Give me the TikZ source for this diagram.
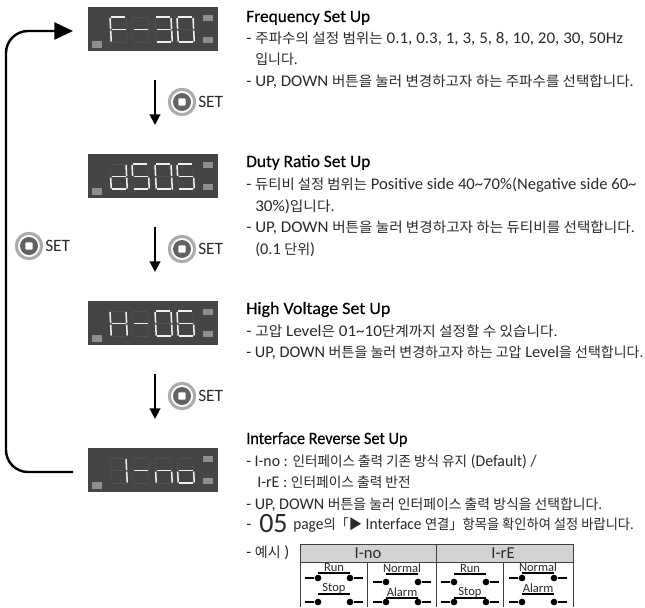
\documentclass[tikz,border=0pt]{standalone}
\usepackage{fontspec}
\usepackage{graphicx}
\usetikzlibrary{arrows.meta}
\setmainfont{Carlito}
\newfontfamily\krf{Noto Sans CJK KR}
\newfontfamily\headf[FakeBold=0.3]{Carlito}
\newcommand{\K}[1]{{\krf\fontsize{10.5}{11}\selectfont #1}}
\newcommand{\hs}[2]{\scalebox{#1}[1]{#2}}
\newcommand{\txtsize}{\fontsize{12.2}{13}\selectfont}
\definecolor{panel}{HTML}{454545}
\definecolor{ledgrey}{HTML}{8E8E8E}
\definecolor{ringgrey}{HTML}{ABABAB}
\definecolor{btn}{HTML}{636363}
\definecolor{inkk}{HTML}{2A2A2A}
\definecolor{headg}{HTML}{D2D2D2}
\def\sga{(1.3,0)--(15.3,0)}
\def\sgb{(16,1)--(16,12)}
\def\sgc{(16,13.5)--(16,24.5)}
\def\sgd{(1,25)--(15,25)}
\def\sge{(0,13.5)--(0,24.5)}
\def\sgf{(0,1)--(0,12)}
\def\sgg{(1,12.7)--(15,12.7)}
\def\drawsegx#1#2{\draw[#2] #1;}
\newcommand{\oneseg}[2]{\expandafter\drawsegx\csname sg#2\endcsname{#1}}
\newcommand{\dgt}[3]{\begin{scope}[shift={(#1,#2)},xslant=-0.05]
\foreach \s in {a,b,c,d,e,f,g}{\oneseg{segdim}{\s}}
\foreach \s in {#3}{\oneseg{segon}{\s}}
\end{scope}}
\newcommand{\panelled}[6]{%
\node[panelbox] (#1) at (153,#2+22) {};
\fill[ledgrey] (92,#2+34) rectangle (102,#2+41);
\fill[ledgrey] (203,#2+8) rectangle (213,#2+14);
\fill[ledgrey] (203,#2+30) rectangle (213,#2+36);
\dgt{110}{#2+10}{#3}\dgt{132}{#2+10}{#4}\dgt{155}{#2+10}{#5}\dgt{177}{#2+10}{#6}}
\newcommand{\setbtn}[3]{%
\node[ringb] (#1) at (#2,#3) {};
\node[coreb] (#1c) at (#2,#3) {};
\node[squareb] (#1s) at (#2,#3) {};
\node[settxt] (#1t) at (#2+16,#3) {SET};}
\newcommand{\sw}[5]{%
\coordinate (#1l) at (#2-29,#3);\coordinate (#1r) at (#2+29,#3);
\node[swdot] (#1a) at (#2-16,#3) {};\node[swdot] (#1b) at (#2+16,#3) {};
\draw[swline] (#1l) -- (#1a);\draw[swline] (#1b) -- (#1r);
\coordinate (#1p) at (#2-16,#4);\coordinate (#1q) at (#2+16,#4);
\draw[swline] (#1p) -- (#1q);
\node[swlabel] (#1t) at (#2,#4-5.5) {#5};}
\begin{document}
\begin{tikzpicture}[x=0.75pt,y=-0.75pt,
 panelbox/.style={fill=panel,draw=none,minimum width=97.5pt,minimum height=33pt,inner sep=0pt,outer sep=0pt},
 segdim/.style={draw=white!7!panel,line width=0.5pt},
 segon/.style={draw=white!94!black,line width=1.15pt},
 ringb/.style={circle,draw=ringgrey,line width=2.3pt,fill=white,minimum size=19pt,inner sep=0pt},
 coreb/.style={circle,fill=btn,minimum size=13.5pt,inner sep=0pt},
 squareb/.style={rectangle,fill=white,rounded corners=0.8pt,minimum size=5.6pt,inner sep=0pt},
 settxt/.style={anchor=west,font=\fontsize{13}{14}\selectfont,text=inkk,inner sep=0pt},
 flowar/.style={line width=1.5pt,-{Triangle[length=8pt,width=8pt]}},
 loopar/.style={line width=1.8pt,rounded corners=16.5pt,-{Triangle[length=14pt,width=12.8pt]}},
 head/.style={anchor=base west,font=\fontsize{13}{14}\headf\selectfont,text=black,inner sep=0pt},
 body/.style={anchor=base west,font=\txtsize,text=inkk,inner sep=0pt},
 tabline/.style={draw=black!75,line width=0.6pt},
 headcell/.style={font=\fontsize{12.5}{13}\selectfont,text=inkk,inner sep=0pt},
 swdot/.style={circle,fill=black,minimum size=5pt,inner sep=0pt},
 swline/.style={line width=1.2pt,black},
 swlabel/.style={font=\fontsize{9.4}{10}\selectfont,text=inkk,inner sep=0pt}]
\useasboundingbox (0,0) rectangle (645,607);
\fill[white] (0,0) rectangle (645,607);
\panelled{pa}{7}{a,e,f,g}{g}{a,b,c,d,g}{a,b,c,d,e,f}
\panelled{pb}{154}{b,c,d,e,g}{a,c,d,f,g}{a,b,c,d,e,f}{a,c,d,f,g}
\fill[white] (172.5,154+35) circle (0.9);
\panelled{pc}{301}{b,c,e,f,g}{g}{a,b,c,d,e,f}{a,c,d,e,f,g}
\panelled{pd}{448}{b,c}{g}{c,e,g}{c,d,e,g}
\coordinate (a1s) at (155,80);\coordinate (a1e) at (155,125);
\coordinate (a2s) at (155,227);\coordinate (a2e) at (155,272);
\coordinate (a3s) at (155,374);\coordinate (a3e) at (155,419);
\draw[flowar] (a1s) -- (a1e);
\draw[flowar] (a2s) -- (a2e);
\draw[flowar] (a3s) -- (a3e);
\coordinate (ls) at (73,472);\coordinate (lc1) at (6,472);\coordinate (lc2) at (6,31);\coordinate (le) at (73,31);
\draw[loopar] (ls) -- (lc1) -- (lc2) -- (le);
\setbtn{b1}{182}{102}
\setbtn{b2}{182}{249}
\setbtn{b3}{182}{396}
\setbtn{b4}{29}{246}
\node[head] (t1) at (246,22) {Frequency Set Up};
\node[body] (t2) at (246,43) {\hs{1.044}{- \K{주파수의 설정 범위는} 0.1, 0.3, 1, 3, 5, 8, 10, 20, 30, 50Hz}};
\node[body] (t3) at (255,64) {\K{입니다.}};
\node[body] (t4) at (246,86) {\hs{1.04}{- UP, DOWN \K{버튼을 눌러 변경하고자 하는 주파수를 선택합니다.}}};
\node[head] (t5) at (246,167) {Duty Ratio Set Up};
\node[body] (t6) at (246,189) {\hs{1.024}{- \K{듀티비 설정 범위는} Positive side 40\textasciitilde70\%(Negative side 60\textasciitilde}};
\node[body] (t7) at (255,211) {\hs{1.05}{30\%)\K{입니다.}}};
\node[body] (t8) at (246,232) {\hs{1.043}{- UP, DOWN \K{버튼을 눌러 변경하고자 하는 듀티비를 선택합니다.}}};
\node[body] (t9) at (255,254) {(0.1 \K{단위})};
\node[head] (t10) at (246,314) {\hs{1.036}{High Voltage Set Up}};
\node[body] (t11) at (246,336) {\hs{1.047}{- \K{고압} Level\K{은} 01\textasciitilde10\K{단계까지 설정할 수 있습니다.}}};
\node[body] (t12) at (246,357) {- UP, DOWN \K{버튼을 눌러 변경하고자 하는 고압} Level\K{을 선택합니다.}};
\node[head] (t13) at (246,444) {\hs{0.936}{Interface Reverse Set Up}};
\node[body] (t14) at (246,466) {\hs{0.97}{- I-no : \K{인터페이스 출력 기존 방식 유지} (Default) /}};
\node[body] (t15) at (257,487) {\hs{0.98}{I-rE : \K{인터페이스 출력 반전}}};
\node[body] (t16) at (246,509) {\hs{0.99}{- UP, DOWN \K{버튼을 눌러 인터페이스 출력 방식을 선택합니다.}}};
\node[body] (t17) at (246,529) {-};
\node[anchor=base west,font=\fontsize{21}{22}\selectfont,text=inkk,inner sep=0pt] (t18) at (259,532) {05};
\node[body] (t19) at (293,529) {\hs{0.947}{page\K{의}\K{「▶} Interface \K{연결」항목을 확인하여 설정 바랍니다.}}};
\node[body] (t20) at (246,557) {- \K{예시} )};
\fill[headg] (300,544) rectangle (573,562);
\draw[tabline] (573,607) -- (573,544) -- (300,544) -- (300,607);
\draw[tabline] (300,562) -- (573,562);
\draw[tabline] (436,544) -- (436,607);
\draw[tabline] (367,562) -- (367,607);
\draw[tabline] (503,562) -- (503,607);
\node[headcell] (h1) at (368,553) {I-no};
\node[headcell] (h2) at (503,553) {I-rE};
\sw{s1}{334}{578}{573}{Run}
\sw{s2}{402}{582}{574}{Normal}
\sw{s3}{470}{582}{574}{Run}
\sw{s4}{538}{578}{573}{Normal}
\sw{s5}{334}{602}{594}{Stop}
\sw{s6}{402}{602}{598}{Alarm}
\sw{s7}{470}{602}{598}{Stop}
\sw{s8}{538}{602}{594}{Alarm}
\end{tikzpicture}
\end{document}
